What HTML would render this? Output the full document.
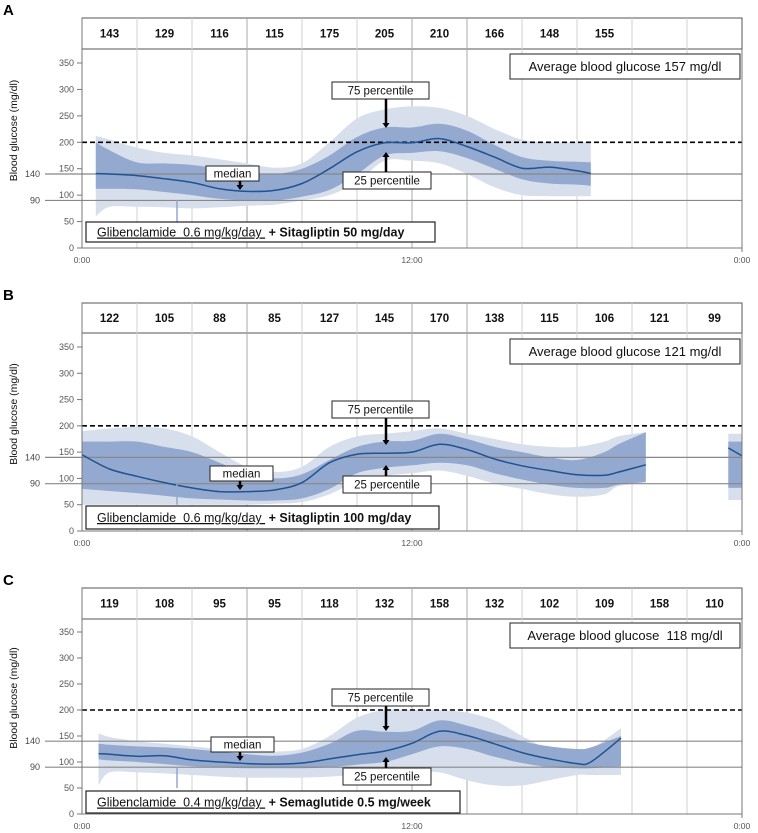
<!DOCTYPE html>
<html><head><meta charset="utf-8"><style>
html,body{margin:0;padding:0;background:#fff;}
svg{display:block;font-family:"Liberation Sans",Arial,sans-serif;}
.pre{white-space:pre;}
</style></head><body>
<svg id="chart" width="758" height="833" viewBox="0 0 758 833" xmlns="http://www.w3.org/2000/svg"></svg>
<script>
// ---------- DATA ----------
const headerA = ["143","129","116","115","175","205","210","166","148","155","",""];
const headerB = ["122","105","88","85","127","145","170","138","115","106","121","99"];
const headerC = ["119","108","95","95","118","132","158","132","102","109","158","110"];
const yTicks = [0,50,100,150,200,250,300,350];
const xTickLabels = ["0:00","12:00","0:00"];
const xTickHours = [0,12,24];

// Panel A (hours)
const timeA = [0.5,1,2,3,4,5,6,7,8,9,10,11,12,13,14,15,16,17,18,18.5];
const medA  = [141,140,137,131,124,112,107,109,122,150,182,199,199,207,192,172,151,153,146,141];
const p75A  = [200,185,162,160,157,150,142,140,150,175,210,228,228,235,222,195,172,165,163,162];
const p25A  = [112,112,111,106,100,93,90,90,97,110,140,175,180,183,170,150,130,122,120,118];
const p90A  = [212,205,190,180,175,168,160,152,160,200,245,262,268,265,250,225,205,200,200,200];
const p10A  = [60,78,78,77,75,77,80,82,90,100,125,165,165,160,140,115,100,98,98,98];

// Panel B (two segments)
const timeB1 = [0,1,2,3,4,5,6,7,8,9,10,11,12,13,14,15,16,17,18,19,19.5,20.5];
const medB1  = [145,118,104,92,82,75,75,78,92,130,146,148,150,165,155,137,124,115,107,106,112,126];
const p75B1  = [170,170,170,160,150,130,108,100,108,135,160,170,172,185,175,160,150,140,135,150,165,188];
const p25B1  = [80,76,72,67,62,60,58,58,62,80,110,120,125,130,125,110,98,88,82,82,88,93];
const p90B1  = [190,195,198,195,180,150,122,112,122,160,180,185,190,195,185,175,165,160,160,170,180,188];
const p10B1  = [50,50,50,50,50,50,50,52,55,70,95,105,110,115,105,90,80,70,65,70,85,93];
const timeB2 = [23.5,24];
const medB2  = [158,143];
const p75B2  = [170,170];
const p25B2  = [82,82];
const p90B2  = [185,185];
const p10B2  = [59,59];

// Panel C
const timeC = [0.6,1,2,3,4,5,6,7,8,9,10,11,12,13,14,15,16,17,18,18.5,19.6];
const medC  = [116,115,111,112,104,100,97,96,98,106,114,121,136,159,151,135,118,106,97,100,146];
const p75C  = [135,133,130,128,125,120,115,112,118,135,160,158,160,180,170,155,140,130,125,128,150];
const p25C  = [105,103,100,96,92,90,88,88,88,90,95,100,115,130,125,110,98,90,88,88,92];
const p90C  = [155,148,140,135,130,125,120,120,125,150,185,200,200,200,195,180,150,125,120,125,165];
const p10C  = [55,80,80,78,75,72,70,70,70,72,75,78,80,80,65,55,55,65,75,75,75];

// ---------- DRAWING ----------
const NS = "http://www.w3.org/2000/svg";
const svg = document.getElementById("chart");
function mk(tag, attrs, parent){
  const e = document.createElementNS(NS, tag);
  for (const k in attrs) e.setAttribute(k, attrs[k]);
  (parent||svg).appendChild(e);
  return e;
}
function smooth(pts){
  if (pts.length < 2) return "";
  let d = "M" + pts[0][0].toFixed(1) + "," + pts[0][1].toFixed(1);
  for (let i=0;i<pts.length-1;i++){
    const p0 = pts[Math.max(0,i-1)], p1 = pts[i], p2 = pts[i+1], p3 = pts[Math.min(pts.length-1,i+2)];
    const c1x = p1[0] + (p2[0]-p0[0])/6, c1y = p1[1] + (p2[1]-p0[1])/6;
    const c2x = p2[0] - (p3[0]-p1[0])/6, c2y = p2[1] - (p3[1]-p1[1])/6;
    d += " C" + c1x.toFixed(1)+","+c1y.toFixed(1)+" "+c2x.toFixed(1)+","+c2y.toFixed(1)+" "+p2[0].toFixed(1)+","+p2[1].toFixed(1);
  }
  return d;
}
const X0 = 82, X1 = 742;
function xs(t){ return X0 + t*(X1-X0)/24; }

function panel(cfg){
  const g = mk("g", {});
  
  
  const ys = v => cfg.y0 - v*(cfg.y0-cfg.y350)/350;
  const lt = mk("text", {x:3, y:cfg.top-3, "font-size":15, "font-weight":"bold", fill:"#000"}, g);
  lt.textContent = cfg.letter;
  
  
  const hb = mk("rect", {x:X0, y:cfg.top, width:X1-X0, height:cfg.hb-cfg.top, fill:"#fff", stroke:"#555", "stroke-width":1}, g);
  
  
  for (let i=1;i<12;i++){
    const x = xs(i*2);
    const dark = (i===3||i===6||i===7);
    const ln = mk("line", {x1:x, x2:x, y1:cfg.top, y2:cfg.y0, stroke: dark?"#aaa":"#d0d0d0", "stroke-width":1}, g);
    
    
  }
  cfg.header.forEach((v,i)=>{
    const t = mk("text", {x:xs(i*2+1), y:(cfg.top+cfg.hb)/2+4, "font-size":11.5, "font-weight":"bold", "text-anchor":"middle", fill:"#111"}, g);
    t.textContent = v;
    
    
  });
  cfg.segments.forEach(s=>{
    const light = s.t.map((t,i)=>[xs(t), ys(s.p90[i])]);
    const lightB = s.t.map((t,i)=>[xs(t), ys(s.p10[i])]).reverse();
    const dark = s.t.map((t,i)=>[xs(t), ys(s.p75[i])]);
    const darkB = s.t.map((t,i)=>[xs(t), ys(s.p25[i])]).reverse();
    const pl = mk("path", {d: smooth(light) + " L" + smooth(lightB).slice(1) + " Z", fill:"#d7deec"}, g);
    
    
    const pd = mk("path", {d: smooth(dark) + " L" + smooth(darkB).slice(1) + " Z", fill:"#93a9cf"}, g);
    
    
  });
  [140,90].forEach(v=>{
    const ln = mk("line", {x1:45, x2:X1, y1:ys(v), y2:ys(v), stroke:"#888", "stroke-width":1.2}, g);
    
    
    const t = mk("text", {x:40, y:ys(v)+3, "font-size":9, "text-anchor":"end", fill:"#444"}, g);
    t.textContent = v;
    
    
  });
  const dl = mk("line", {x1:X0, x2:X1, y1:ys(200), y2:ys(200), stroke:"#000", "stroke-width":1.6, "stroke-dasharray":"5,3"}, g);
  
  
  cfg.segments.forEach(s=>{
    const m = mk("path", {d: smooth(s.t.map((t,i)=>[xs(t), ys(s.med[i])])), fill:"none", stroke:"#1f5393", "stroke-width":1.5}, g);
    
    
  });
  const ev = mk("line", {x1:177, x2:177, y1:ys(90), y2:ys(50), stroke:"#93a9cf", "stroke-width":1.5}, g);
  
  
  const ay = mk("line", {x1:X0, x2:X0, y1:cfg.top, y2:cfg.y0, stroke:"#777", "stroke-width":1}, g);
  
  
  const ax = mk("line", {x1:X0, x2:X1, y1:cfg.y0, y2:cfg.y0, stroke:"#777", "stroke-width":1}, g);
  
  
  const ar = mk("line", {x1:X1, x2:X1, y1:cfg.hb, y2:cfg.y0+4, stroke:"#777", "stroke-width":1}, g);
  
  
  yTicks.forEach(v=>{
    const tk = mk("line", {x1:X0-5, x2:X0, y1:ys(v), y2:ys(v), stroke:"#777"}, g);
    
    
    const t = mk("text", {x:X0-8, y:ys(v)+3, "font-size":9, "text-anchor":"end", fill:"#555"}, g);
    t.textContent = v;
    
    
  });
  xTickLabels.forEach((lab,i)=>{
    const t = mk("text", {x:xs(xTickHours[i]), y:cfg.y0+15, "font-size":8.5, "text-anchor":"middle", fill:"#555"}, g);
    t.textContent = lab;
    
    
  });
  const yc = (cfg.y350+cfg.y0)/2 - 25;
  const yt = mk("text", {x:0, y:0, transform:"translate(17,"+yc+") rotate(-90)", "font-size":10.5, "text-anchor":"middle", fill:"#111"}, g);
  yt.textContent = "Blood glucose (mg/dl)";
  
  
  function box(name, x, y, w, h, txt, fs){
    const r = mk("rect", {x:x, y:y, width:w, height:h, fill:"#fff", stroke:"#222", "stroke-width":1}, g);
    
    
    const t = mk("text", {x:x+w/2, y:y+h/2+fs*0.36, "font-size":fs, "text-anchor":"middle", fill:"#111", "class":"pre"}, g);
    t.textContent = txt;
    
    
  }
  function arrow(name, x, y1, y2, w){
    const dir = y2>y1?1:-1;
    const p = mk("path", {d:"M"+x+","+y1+" L"+x+","+(y2-dir*5), stroke:"#000", "stroke-width":w, fill:"none"}, g);
    
    
    const h = mk("path", {d:"M"+(x-3.5)+","+(y2-dir*5)+" L"+(x+3.5)+","+(y2-dir*5)+" L"+x+","+y2+" Z", fill:"#000"}, g);
    
    
  }
  const a = cfg.ann;
  box("average-glucose-box", 510, a.avgY, 230, 25, cfg.avg, 13);
  box("p75-label", 332, a.p75Y, 97, 17, "75 percentile", 11.5);
  arrow("p75-arrow", 386, a.p75Y+17, a.p75A, 2.5);
  box("p25-label", 343, a.p25Y, 88, 17, "25 percentile", 11.5);
  arrow("p25-arrow", 386, a.p25Y, a.p25A, 2.5);
  box("median-label", a.medX, a.medY, a.medW, 15, "median", 11.5);
  arrow("median-arrow", 240, a.medY+15, a.medY+24, 2.5);
  const lr = mk("rect", {x:86, y:a.legY, width:a.legW, height:a.legH, fill:"#fff", stroke:"#222", "stroke-width":1.2}, g);
  
  
  const lt2 = mk("text", {x:97, y:a.legY+a.legH/2+4.5, "font-size":12.5, fill:"#111", "class":"pre"}, g);
  
  
  const s1 = mk("tspan", {"text-decoration":"underline"}, lt2);
  s1.textContent = cfg.drug1;
  const s2 = mk("tspan", {"font-weight":"bold"}, lt2);
  s2.textContent = " + " + cfg.drug2;
}

panel({name:"panel-a", letter:"A", top:18, hb:49, y350:63, y0:248, header:headerA,
  segments:[{t:timeA, med:medA, p75:p75A, p25:p25A, p90:p90A, p10:p10A}],
  avg:"Average blood glucose 157 mg/dl", drug1:"Glibenclamide  0.6 mg/kg/day ", drug2:"Sitagliptin 50 mg/day",
  ann:{avgY:54, p75Y:82, p75A:128, p25Y:172, p25A:152, medX:206, medY:166, medW:53, legY:222, legH:20, legW:349}});
panel({name:"panel-b", letter:"B", top:303, hb:333, y350:347, y0:531, header:headerB,
  segments:[{t:timeB1, med:medB1, p75:p75B1, p25:p25B1, p90:p90B1, p10:p10B1},
            {t:timeB2, med:medB2, p75:p75B2, p25:p25B2, p90:p90B2, p10:p10B2}],
  avg:"Average blood glucose 121 mg/dl", drug1:"Glibenclamide  0.6 mg/kg/day ", drug2:"Sitagliptin 100 mg/day",
  ann:{avgY:339, p75Y:401, p75A:445, p25Y:476, p25A:465, medX:210, medY:466, medW:63, legY:506, legH:23, legW:353}});
panel({name:"panel-c", letter:"C", top:588, hb:619, y350:632, y0:814, header:headerC,
  segments:[{t:timeC, med:medC, p75:p75C, p25:p25C, p90:p90C, p10:p10C}],
  avg:"Average blood glucose  118 mg/dl", drug1:"Glibenclamide  0.4 mg/kg/day ", drug2:"Semaglutide 0.5 mg/week",
  ann:{avgY:623, p75Y:689, p75A:731, p25Y:768, p25A:757, medX:211, medY:737, medW:63, legY:791, legH:22, legW:374}});
</script>
</body></html>
